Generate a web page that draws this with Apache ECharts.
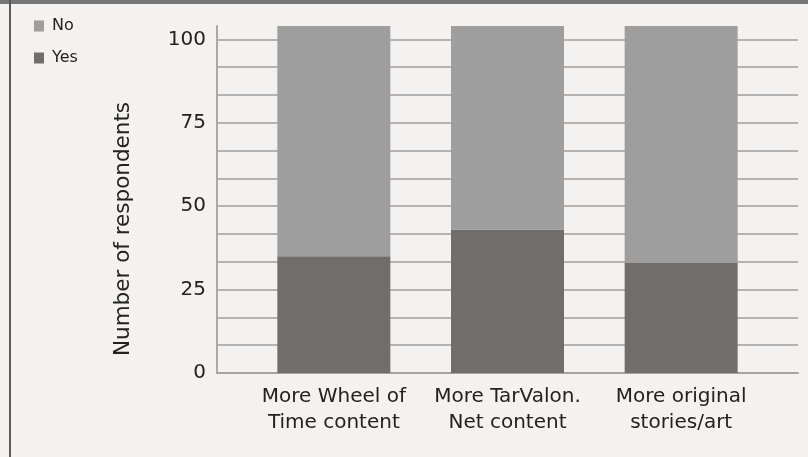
<!DOCTYPE html>
<html>
<head>
<meta charset="utf-8">
<script src="https://cdn.jsdelivr.net/npm/echarts@6/dist/echarts.min.js"></script>
<style>
html,body{margin:0;padding:0;background:#f3f2f0;}
#c{width:808px;height:457px;}
</style>
</head>
<body>
<div id="c"></div>
<script>
var categories = ['More Wheel of\nTime content', 'More TarValon.\nNet content', 'More original\nstories/art'];
var yesValues = [35, 43, 33];
var noValues = [69, 61, 71];
var yTickLabels = [0, 25, 50, 75, 100];
var yMax = 104;

var chart = echarts.init(document.getElementById('c'));
var FONT = 'DejaVu Sans';
var yAxisBase = {
  type: 'value', min: 0, max: yMax, interval: 25 / 3
};
chart.setOption({
  backgroundColor: '#f3f2f0',
  animation: false,
  textStyle: { fontFamily: FONT },
  graphic: [
    { type: 'rect', shape: { x: 0, y: 0, width: 808, height: 4 }, style: { fill: '#777777' }, z: 100 },
    { type: 'rect', shape: { x: 9, y: 0, width: 2, height: 457 }, style: { fill: '#5a5a5a' }, z: 100 }
  ],
  legend: {
    orient: 'vertical', left: 29, top: 13,
    data: ['No', 'Yes'],
    itemWidth: 10, itemHeight: 11, itemGap: 16,
    icon: 'rect',
    textStyle: { fontFamily: FONT, fontSize: 16, color: '#222', lineHeight: 16, padding: [0, 0, 0, 3] }
  },
  grid: [
    { left: 217, right: 10, top: 26, bottom: 84, containLabel: false },
    { left: 247, right: 40, top: 26, bottom: 84, containLabel: false }
  ],
  xAxis: [
    { gridIndex: 0, type: 'value', min: 0, max: 1,
      axisLine: { show: true, onZero: false, lineStyle: { color: '#a3a3a3', width: 2 } },
      axisTick: { show: false }, axisLabel: { show: false }, splitLine: { show: false } },
    { gridIndex: 1, type: 'category', data: categories,
      axisLine: { show: false }, axisTick: { show: false },
      axisLabel: { fontFamily: FONT, fontSize: 20, color: '#222', lineHeight: 26, margin: 11, interval: 0 } }
  ],
  yAxis: [
    Object.assign({}, yAxisBase, {
      gridIndex: 0,
      name: 'Number of respondents', nameLocation: 'middle', nameGap: 83, nameRotate: 90,
      nameTextStyle: { fontFamily: FONT, fontSize: 21.5, color: '#222', padding: [0, 59, 0, 0] },
      axisLine: { show: true, lineStyle: { color: '#a9a9a9', width: 2 } },
      axisTick: { show: false },
      axisLabel: {
        fontFamily: FONT, fontSize: 20, color: '#222', margin: 11,
        formatter: function (v) {
          for (var i = 0; i < yTickLabels.length; i++) {
            if (Math.abs(v - yTickLabels[i]) < 1e-6) return String(yTickLabels[i]);
          }
          return '';
        }
      },
      splitLine: { show: true, showMaxLine: false, lineStyle: { color: '#b3b3b3', width: 2 } }
    }),
    Object.assign({}, yAxisBase, {
      gridIndex: 1, show: false, splitLine: { show: false }
    })
  ],
  series: [
    { name: 'Yes', type: 'bar', stack: 'all', xAxisIndex: 1, yAxisIndex: 1,
      data: yesValues, barWidth: 113, itemStyle: { color: '#716d6b' } },
    { name: 'No', type: 'bar', stack: 'all', xAxisIndex: 1, yAxisIndex: 1,
      data: noValues, barWidth: 113, itemStyle: { color: '#9e9e9e' } }
  ]
});
</script>
</body>
</html>
